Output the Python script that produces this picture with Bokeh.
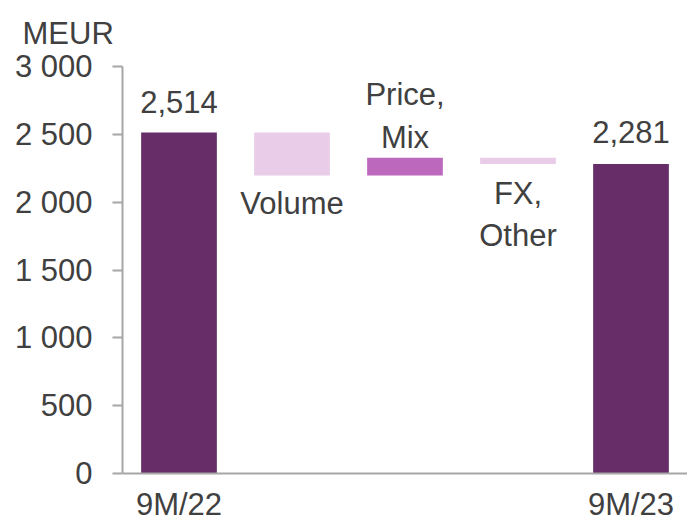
from bokeh.plotting import figure
from bokeh.models import ColumnDataSource, Range1d, FixedTicker
from bokeh.core.properties import value
from bokeh.embed import file_html
from bokeh.resources import INLINE

categories = ["9M/22", "Volume", "Price, Mix", "FX, Other", "9M/23"]
x_tick_labels = ["9M/22", " ", "  ", "   ", "9M/23"]
start_value = 2514
deltas = [-318, 132, -47]
end_value = 2281
colors = ["#662D69", "#E8CCE8", "#BC69BD", "#E8CCE8", "#662D69"]
y_ticks = [0, 500, 1000, 1500, 2000, 2500, 3000]
y_tick_labels = ["0", "500", "1 000", "1 500", "2 000", "2 500", "3 000"]
label_lines = ["2,514", "2,281", "Volume", "Price,", "Mix", "FX,", "Other"]

# waterfall geometry from values
bottoms, tops = [0], [start_value]
level = start_value
for d in deltas:
    new = level + d
    bottoms.append(min(level, new))
    tops.append(max(level, new))
    level = new
bottoms.append(0)
tops.append(end_value)

FONT = "Liberation Sans"
TXT = "#404040"
GRID = "#A6A6A6"
FS = "31px"

# frame: top 66px, zero line at 473px, canvas bottom 521px
y_start = -3000 * 48 / 407

p = figure(x_range=x_tick_labels, y_range=Range1d(y_start, 3000), width=687, height=521,
           output_backend="svg", toolbar_location=None, title="MEUR",
           min_border_left=122, min_border_right=0, min_border_top=66, min_border_bottom=0)
p.outline_line_color = None
p.xgrid.grid_line_color = None
p.ygrid.grid_line_color = None

p.title.text_font = FONT
p.title.text_font_size = FS
p.title.text_font_style = "normal"
p.title.text_color = TXT
p.title.align = "left"
p.title.vertical_align = "top"
p.title.offset = -100
p.title.standoff = 28

src = ColumnDataSource(dict(x=x_tick_labels, bottom=bottoms, top=tops, color=colors))
p.vbar(x="x", bottom="bottom", top="top", width=0.67, fill_color="color", line_color=None, source=src)

# labels
lab_x = [x_tick_labels[i] for i in (0, 4, 1, 2, 2, 3, 3)]
lab_y = [tops[0], tops[4], bottoms[1], tops[2], tops[2], bottoms[3], bottoms[3]]
lab_off = [-30, -32, 28, -63, -20, 29, 71]
p.text(x=lab_x, y=lab_y, text=label_lines, y_offset=lab_off, text_align="center",
       text_baseline="middle", text_font=value(FONT), text_font_size=FS, text_color=TXT)

# axes
p.xaxis.fixed_location = 0
p.xaxis.major_tick_line_color = None
p.xaxis.minor_tick_line_color = None
p.xaxis.major_tick_out = 0
p.xaxis.major_tick_in = 0
p.xaxis.axis_line_color = GRID
p.xaxis.axis_line_width = 2
p.xaxis.major_label_text_font = FONT
p.xaxis.major_label_text_font_size = FS
p.xaxis.major_label_text_color = TXT
p.xaxis.major_label_standoff = 13

p.yaxis.bounds = (0, 3000)
p.yaxis.ticker = FixedTicker(ticks=y_ticks)
p.yaxis.major_label_overrides = dict(zip(y_ticks, y_tick_labels))
p.yaxis.axis_line_color = GRID
p.yaxis.axis_line_width = 2
p.yaxis.major_tick_line_color = GRID
p.yaxis.major_tick_line_width = 2
p.yaxis.major_tick_out = 10
p.yaxis.major_tick_in = 0
p.yaxis.minor_tick_line_color = None
p.yaxis.major_label_text_font = FONT
p.yaxis.major_label_text_font_size = FS
p.yaxis.major_label_text_color = TXT
p.yaxis.major_label_standoff = 20

open("out.html", "w").write(file_html(p, INLINE))
